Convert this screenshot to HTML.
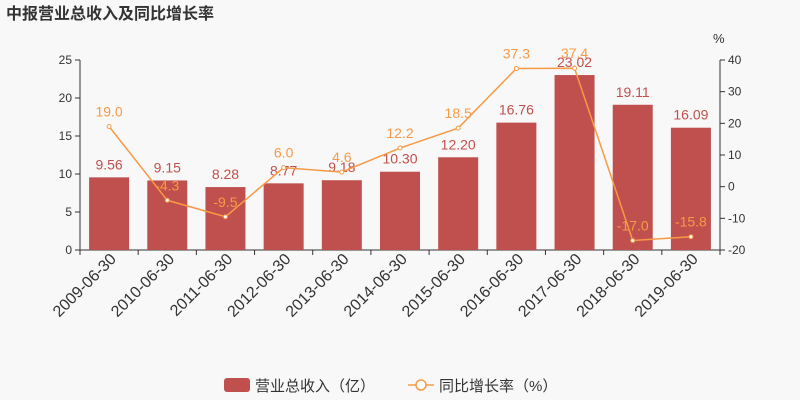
<!DOCTYPE html>
<html><head><meta charset="utf-8"><style>
body{margin:0;background:#f8f8f8;}
svg{display:block;font-family:"Liberation Sans","Noto Sans CJK SC",sans-serif;}
</style></head><body>
<svg id="c" width="800" height="400">
<text x="6" y="19" font-size="16" font-weight="bold" fill="#333">中报营业总收入及同比增长率</text>
<text x="713" y="43" font-size="13" fill="#333">%</text>
<g id="axes"></g><g id="bars"></g><g id="line"></g>
<g>
<rect x="224" y="378" width="26" height="14" rx="3" fill="#c0504d"/>
<text x="255" y="391" font-size="15" fill="#333">营业总收入（亿）</text>
<line x1="408" y1="385" x2="434" y2="385" stroke="#f79a45" stroke-width="1.5"/>
<circle cx="421" cy="385" r="5" fill="#fff" stroke="#f79a45" stroke-width="1.5"/>
<text x="439" y="391" font-size="15" fill="#333">同比增长率（%）</text>
</g>
</svg>
<script>
const categories=["2009-06-30","2010-06-30","2011-06-30","2012-06-30","2013-06-30","2014-06-30","2015-06-30","2016-06-30","2017-06-30","2018-06-30","2019-06-30"];
const revenue=[9.56,9.15,8.28,8.77,9.18,10.30,12.20,16.76,23.02,19.11,16.09];
const revenueLabels=["9.56","9.15","8.28","8.77","9.18","10.30","12.20","16.76","23.02","19.11","16.09"];
const growth=[19.0,-4.3,-9.5,6.0,4.6,12.2,18.5,37.3,37.4,-17.0,-15.8];
const leftTicks=[0,5,10,15,20,25];
const rightTicks=[-20,-10,0,10,20,30,40];
const NS="http://www.w3.org/2000/svg";
const X0=80,X1=720,Y0=250,Y1=60;
const bw=(X1-X0)/categories.length;
const xc=i=>X0+bw*(i+0.5);
const yL=v=>Y0-(v/25)*(Y0-Y1);
const yR=v=>Y0-((v+20)/60)*(Y0-Y1);
function mk(tag,attrs,parent,text){const e=document.createElementNS(NS,tag);for(const k in attrs)e.setAttribute(k,attrs[k]);if(text!=null)e.textContent=text;document.getElementById(parent).appendChild(e);return e;}
mk("line",{x1:X0,y1:Y0,x2:X1,y2:Y0,stroke:"#333"},"axes");
mk("line",{x1:X0,y1:Y1,x2:X0,y2:Y0,stroke:"#333"},"axes");
mk("line",{x1:X1,y1:Y1,x2:X1,y2:Y0,stroke:"#333"},"axes");
leftTicks.forEach(v=>{mk("line",{x1:X0-5,y1:yL(v),x2:X0,y2:yL(v),stroke:"#333"},"axes");
const t=mk("text",{x:X0-8,y:yL(v)+4,"font-size":12,fill:"#333","text-anchor":"end"},"axes",v);

});
rightTicks.forEach(v=>{mk("line",{x1:X1,y1:yR(v),x2:X1+5,y2:yR(v),stroke:"#333"},"axes");
const t=mk("text",{x:X1+8,y:yR(v)+4,"font-size":12,fill:"#333"},"axes",v);

});
for(let i=0;i<=categories.length;i++)mk("line",{x1:X0+bw*i,y1:Y0,x2:X0+bw*i,y2:Y0+5,stroke:"#333"},"axes");
categories.forEach((c,i)=>{const x=xc(i)+8,y=Y0+10;
const t=mk("text",{x:x,y:y,"font-size":16,fill:"#333","text-anchor":"end",transform:`rotate(-45 ${x} ${y})`},"axes",c);

});
revenue.forEach((v,i)=>{const r=mk("rect",{x:xc(i)-20,y:yL(v),width:40,height:Y0-yL(v),fill:"#c0504d"},"bars");


const t=mk("text",{x:xc(i),y:yL(v)-8,"font-size":14,fill:"#c0504d","text-anchor":"middle"},"bars",revenueLabels[i]);

});
const p=mk("polyline",{points:growth.map((v,i)=>xc(i)+","+yR(v)).join(" "),fill:"none",stroke:"#f79a45","stroke-width":1.5},"line");


growth.forEach((v,i)=>{const c=mk("circle",{cx:xc(i),cy:yR(v),r:2,fill:"#fff",stroke:"#f79a45"},"line");


const t=mk("text",{x:xc(i),y:yR(v)-10,"font-size":14,fill:"#f79a45","text-anchor":"middle"},"line",v.toFixed(1));

});
</script>
</body></html>
